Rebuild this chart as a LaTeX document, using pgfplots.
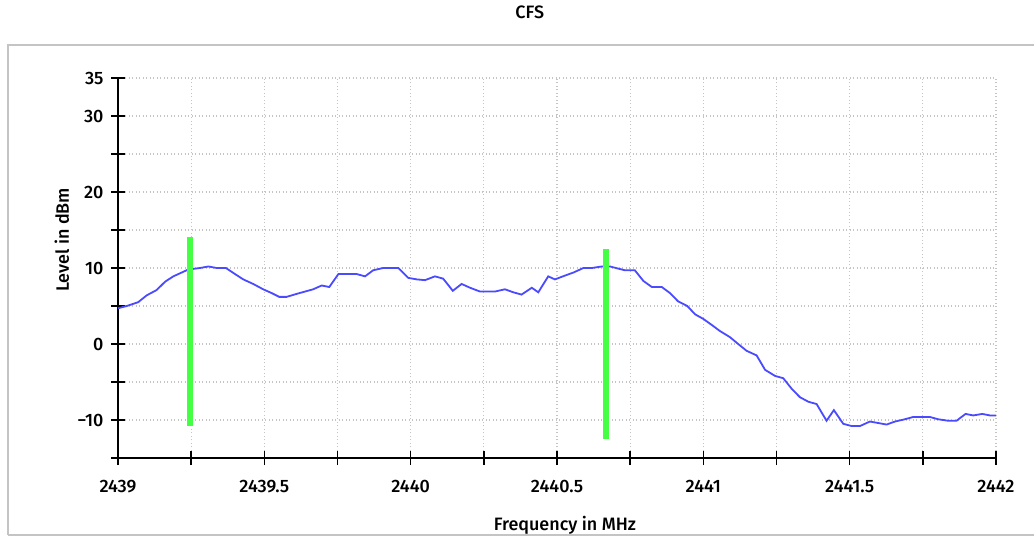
\documentclass[border=0pt]{standalone}
\usepackage{pgfplots}
\pgfplotsset{compat=1.18}
\usepackage{pgfplotstable}
\usepackage{fontspec}
\setmainfont{Fira Sans}[UprightFont={* Medium}]

\definecolor{trace}{HTML}{4A4AFF}
\definecolor{marker}{HTML}{44FF44}
\definecolor{gridgray}{HTML}{C4C4C4}
\definecolor{framegray}{HTML}{C4C4C4}

% spectrum trace
\pgfplotstableread{
f v
2439.000 4.7
2439.030 5.0
2439.069 5.5
2439.098 6.4
2439.132 7.1
2439.161 8.2
2439.189 8.9
2439.240 9.8
2439.280 10.0
2439.309 10.2
2439.337 10.0
2439.369 10.0
2439.400 9.2
2439.428 8.5
2439.462 7.9
2439.496 7.2
2439.525 6.7
2439.551 6.2
2439.576 6.2
2439.611 6.6
2439.639 6.9
2439.667 7.2
2439.696 7.7
2439.722 7.5
2439.753 9.2
2439.781 9.2
2439.816 9.2
2439.844 8.9
2439.872 9.7
2439.906 10.0
2439.958 10.0
2439.992 8.7
2440.021 8.5
2440.049 8.4
2440.083 8.9
2440.111 8.6
2440.144 7.0
2440.174 7.9
2440.203 7.4
2440.237 6.9
2440.288 6.9
2440.322 7.2
2440.351 6.8
2440.379 6.5
2440.414 7.4
2440.436 6.8
2440.470 8.9
2440.493 8.5
2440.527 9.0
2440.556 9.4
2440.590 10.0
2440.619 10.0
2440.653 10.2
2440.681 10.2
2440.732 9.7
2440.766 9.7
2440.795 8.3
2440.824 7.5
2440.858 7.5
2440.886 6.7
2440.914 5.6
2440.945 5.0
2440.972 3.9
2441.000 3.3
2441.029 2.5
2441.057 1.7
2441.091 0.9
2441.119 0.0
2441.148 -0.9
2441.182 -1.5
2441.211 -3.4
2441.245 -4.2
2441.273 -4.5
2441.302 -5.9
2441.330 -7.0
2441.359 -7.6
2441.387 -7.9
2441.421 -10.1
2441.446 -8.7
2441.478 -10.5
2441.507 -10.8
2441.535 -10.8
2441.569 -10.2
2441.598 -10.4
2441.626 -10.6
2441.655 -10.2
2441.689 -9.9
2441.717 -9.6
2441.774 -9.6
2441.802 -9.9
2441.837 -10.1
2441.865 -10.1
2441.896 -9.2
2441.922 -9.4
2441.953 -9.2
2441.979 -9.4
2442.000 -9.4
}\trace

\begin{document}
\begin{tikzpicture}[font=\fontsize{18}{21}\selectfont]
\begin{axis}[
    at={(118bp,79bp)}, anchor=south west,
    scale only axis,
    width=878bp, height=380bp,
    xmin=2439, xmax=2442,
    ymin=-15, ymax=35,
    axis x line*=bottom,
    axis y line*=left,
    axis line style={black, line width=1.6bp},
    xtick={2439,2439.25,2439.5,2439.75,2440,2440.25,2440.5,2440.75,2441,2441.25,2441.5,2441.75,2442},
    xticklabels={2439,,2439.5,,2440,,2440.5,,2441,,2441.5,,2442},
    ytick={-15,-10,-5,0,5,10,15,20,25,30,35},
    yticklabels={,−10,,0,,10,,20,,30,35},
    tick align=center,
    major tick length=14bp,
    tick style={black, line width=1.4bp},
    xticklabel style={yshift=-12bp},
    yticklabel style={xshift=-4bp},
    grid=major,
    grid style={gridgray, line width=1.1bp, dash pattern=on 1.3bp off 2.2bp},
    title={CFS},
    title style={at={(axis description cs:0.469,1.158)}, anchor=center},
    xlabel={Frequency in MHz},
    xlabel style={at={(axis description cs:0.509,-0.178)}, anchor=center},
    ylabel={Level in dBm},
    ylabel style={at={(axis description cs:-0.064,0.574)}, anchor=center},
    clip=false,
]
\addplot[color=trace, line width=1.8bp] table[x=f, y=v] {\trace};
\addplot[color=marker, line width=5.6bp] coordinates {(2439.246,14.1) (2439.246,-10.8)};
\addplot[color=marker, line width=5.6bp] coordinates {(2440.667,12.5) (2440.667,-12.5)};
\end{axis}
% outer frame; the x label runs under its bottom edge
\fill[white] (0bp,-40bp) rectangle (1034bp,1bp);
\draw[framegray, line width=2bp] (8bp,2bp) -- (8bp,492bp) -- (1040bp,492bp);
\draw[framegray, line width=2bp] (8bp,2bp) -- (1040bp,2bp);
\pgfresetboundingbox
\path (0bp,0bp) rectangle (1034bp,537bp);
\end{tikzpicture}
\end{document}
